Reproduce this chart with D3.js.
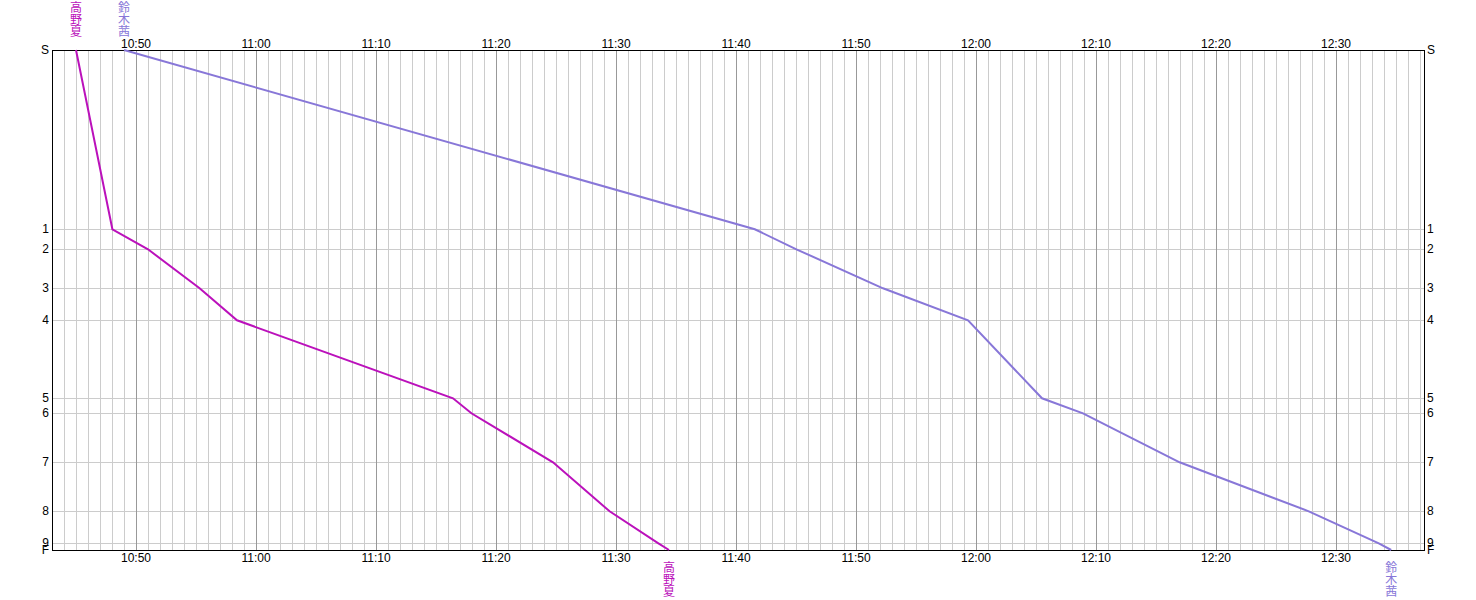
<!DOCTYPE html>
<html>
<head>
<meta charset="utf-8">
<script src="https://cdn.jsdelivr.net/npm/d3@7"></script>
<style>
  body { margin: 0; background: #fff; }
  text { font-family: "Liberation Sans", "Noto Sans CJK JP", sans-serif; font-size: 12px; }
</style>
</head>
<body>
<svg id="chart" width="1476" height="600"></svg>
<script>
// controls and cumulative distance (km)
var controls = ["S", "1", "2", "3", "4", "5", "6", "7", "8", "9", "F"];
var distances = [0, 1.793, 1.993, 2.383, 2.703, 3.483, 3.633, 4.123, 4.613, 4.933, 5.0];

// runners with split times at each control
var runners = ["高野夏", "鈴木茜"];
var colors = ["#bb11bb", "#8877d8"];
var splitsTakano = ["10:45:00", "10:48:02", "10:51:00", "10:55:18", "10:58:25", "11:16:25",
                    "11:17:57", "11:24:45", "11:29:28", "11:33:32", "11:34:25"];
var splitsSuzuki = ["10:49:00", "11:41:34", "11:45:02", "11:52:15", "11:59:20", "12:05:30",
                    "12:08:55", "12:16:58", "12:27:44", "12:33:34", "12:34:36"];
var timeRange = ["10:43:00", "12:37:20"];

var parse = d3.timeParse("%H:%M:%S");
var fmt = d3.timeFormat("%H:%M");

var svg = d3.select("#chart");
var pLeft = 52, pRight = 1424, pTop = 50, pBottom = 550;

var x = d3.scaleTime()
    .domain(timeRange.map(parse))
    .range([pLeft, pRight]);
var y = d3.scaleLinear()
    .domain([0, d3.max(distances)])
    .range([pTop, pBottom]);

// minute grid
var minutes = d3.timeMinute.every(1).range(x.domain()[0], d3.timeSecond.offset(x.domain()[1], 1));
var grid = svg.append("g");
grid.selectAll("line.min")
    .data(minutes.filter(function (d) { return d.getMinutes() % 10 != 0; }))
    .enter().append("line")
    .attr("x1", function (d) { return Math.round(x(d)) + 0.5; })
    .attr("x2", function (d) { return Math.round(x(d)) + 0.5; })
    .attr("y1", pTop).attr("y2", pBottom)
    .attr("stroke", "#cccccc");

// control grid
grid.selectAll("line.ctl")
    .data(distances.slice(1, -1))
    .enter().append("line")
    .attr("x1", pLeft).attr("x2", pRight)
    .attr("y1", function (d) { return Math.round(y(d)) + 0.5; })
    .attr("y2", function (d) { return Math.round(y(d)) + 0.5; })
    .attr("stroke", "#cccccc");

var tens = minutes.filter(function (d) { return d.getMinutes() % 10 == 0; });
grid.selectAll("line.ten")
    .data(tens)
    .enter().append("line")
    .attr("x1", function (d) { return Math.round(x(d)) + 0.5; })
    .attr("x2", function (d) { return Math.round(x(d)) + 0.5; })
    .attr("y1", pTop).attr("y2", pBottom)
    .attr("stroke", "#999999");

// frame
svg.append("rect")
    .attr("x", pLeft + 0.5).attr("y", pTop + 0.5)
    .attr("width", pRight - pLeft).attr("height", pBottom - pTop)
    .attr("fill", "none")
    .attr("stroke", "black");

// time labels top and bottom
svg.append("g").selectAll("text")
    .data(tens).enter().append("text")
    .attr("x", function (d) { return x(d); })
    .attr("y", pTop - 2)
    .attr("text-anchor", "middle")
    .text(fmt);
svg.append("g").selectAll("text")
    .data(tens).enter().append("text")
    .attr("x", function (d) { return x(d); })
    .attr("y", pBottom + 12)
    .attr("text-anchor", "middle")
    .text(fmt);

// control labels both sides
svg.append("g").selectAll("text")
    .data(controls).enter().append("text")
    .attr("x", pLeft - 3)
    .attr("y", function (d, i) { return y(distances[i]) + 4; })
    .attr("text-anchor", "end")
    .text(function (d) { return d; });
svg.append("g").selectAll("text")
    .data(controls).enter().append("text")
    .attr("x", pRight + 3)
    .attr("y", function (d, i) { return y(distances[i]) + 4; })
    .attr("text-anchor", "start")
    .text(function (d) { return d; });

// runner lines
var allSplits = [splitsTakano, splitsSuzuki];
var line = d3.line()
    .x(function (d) { return x(parse(d)); })
    .y(function (d, i) { return y(distances[i]); });

allSplits.forEach(function (splits, r) {
    svg.append("path")
        .attr("d", line(splits))
        .attr("fill", "none")
        .attr("stroke", colors[r])
        .attr("stroke-width", 2);

    var chars = runners[r].split("");
    var sx = x(parse(splits[0]));
    var fx = x(parse(splits[splits.length - 1]));
    var g = svg.append("g")
        .attr("fill", colors[r])
        .style("font-family", "'Noto Sans CJK JP', sans-serif");
    chars.forEach(function (c, k) {
        g.append("text")
            .attr("x", sx).attr("y", 12 + k * 12)
            .attr("text-anchor", "middle")
            .text(c);
        g.append("text")
            .attr("x", fx).attr("y", 572 + k * 12)
            .attr("text-anchor", "middle")
            .text(c);
    });
});
</script>
</body>
</html>
